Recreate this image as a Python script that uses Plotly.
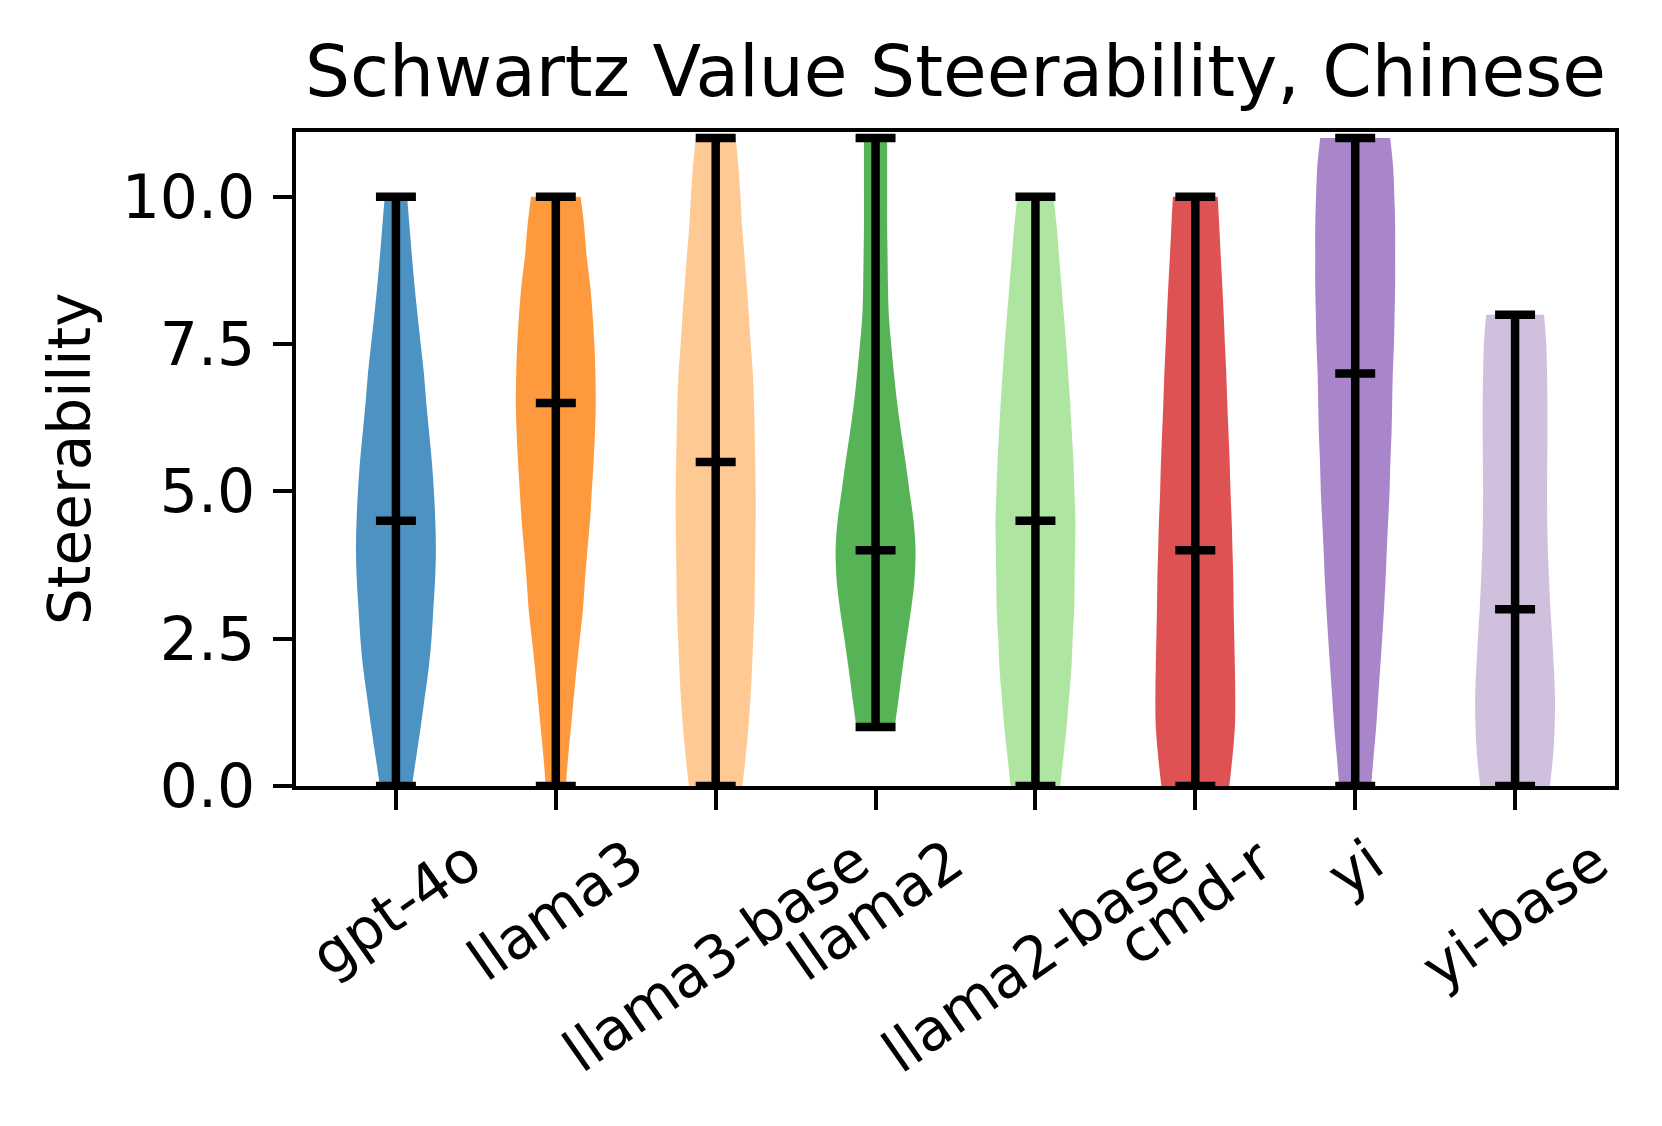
import plotly.graph_objects as go

models = ["gpt-4o", "llama3", "llama3-base", "llama2", "llama2-base", "cmd-r", "yi", "yi-base"]
mins = [0, 0, 0, 1, 0, 0, 0, 0]
maxs = [10, 10, 11, 11, 10, 10, 11, 8]
medians = [4.5, 6.5, 5.5, 4.0, 4.5, 4.0, 7.0, 3.0]

# relative violin half-width (1 = widest), read every 0.5 from min to max
w_gpt4o = [0.40, 0.51, 0.62, 0.72, 0.82, 0.89, 0.935, 0.98, 1.0, 0.985, 0.95,
           0.90, 0.83, 0.76, 0.70, 0.62, 0.54, 0.465, 0.40, 0.34, 0.28]
w_llama3 = [0.25, 0.31, 0.38, 0.45, 0.52, 0.60, 0.68, 0.73, 0.79, 0.855, 0.90,
            0.945, 0.98, 1.0, 0.99, 0.965, 0.92, 0.86, 0.77, 0.71, 0.62]
w_llama3_base = [0.67, 0.75, 0.82, 0.87, 0.91, 0.94, 0.97, 0.98, 0.99, 1.0, 1.0, 0.99,
                 0.975, 0.96, 0.93, 0.875, 0.83, 0.775, 0.72, 0.66, 0.62, 0.57, 0.50]
w_llama2 = [0.48, 0.58, 0.675, 0.78, 0.89, 0.975, 1.0, 0.95, 0.85, 0.75, 0.64,
            0.54, 0.46, 0.39, 0.33, 0.31, 0.30, 0.29, 0.29, 0.29, 0.29]
w_llama2_base = [0.62, 0.70, 0.78, 0.84, 0.90, 0.93, 0.97, 0.98, 0.99, 1.0, 0.975,
                 0.95, 0.91, 0.87, 0.82, 0.77, 0.71, 0.65, 0.59, 0.53, 0.45]
w_cmdr = [0.85, 0.93, 0.99, 1.0, 0.99, 0.975, 0.96, 0.95, 0.93, 0.91, 0.88,
          0.86, 0.83, 0.80, 0.775, 0.74, 0.71, 0.675, 0.635, 0.60, 0.56]
w_yi = [0.40, 0.46, 0.525, 0.575, 0.625, 0.675, 0.72, 0.76, 0.79, 0.825, 0.86, 0.88,
        0.91, 0.925, 0.94, 0.97, 0.985, 1.0, 1.0, 1.0, 0.98, 0.95, 0.875]
w_yi_base = [0.87, 0.95, 0.99, 1.0, 0.97, 0.93, 0.885, 0.85, 0.82, 0.805, 0.80,
             0.805, 0.81, 0.81, 0.80, 0.78, 0.725]
widths = [w_gpt4o, w_llama3, w_llama3_base, w_llama2, w_llama2_base, w_cmdr, w_yi, w_yi_base]

colors = ["rgba(31,119,180,0.8)", "rgba(255,127,14,0.8)", "rgba(255,187,120,0.8)",
          "rgba(44,160,44,0.8)", "rgba(152,223,138,0.8)", "rgba(214,39,40,0.8)",
          "rgba(148,103,189,0.8)", "rgba(197,176,213,0.8)"]

yticks = [0, 2.5, 5.0, 7.5, 10.0]
title = "Schwartz Value Steerability, Chinese"
ylabel = "Steerability"

FONT = "DejaVu Sans"
HALF = 0.25   # max half-width of a violin (category units)
CAP = 0.125   # half-length of the min/max/median bars
STEP = 0.5    # spacing of the width readings
LW = 8.5

fig = go.Figure()

for i, m in enumerate(models):
    ys = [mins[i] + STEP * k for k in range(len(widths[i]))]
    left = [i - HALF * w for w in widths[i]]
    right = [i + HALF * w for w in widths[i]]
    fig.add_trace(go.Scatter(x=left, y=ys, mode="lines",
                             line=dict(width=0, shape="spline", color=colors[i]),
                             showlegend=False, hoverinfo="skip"))
    fig.add_trace(go.Scatter(x=right, y=ys, mode="lines", fill="tonextx",
                             fillcolor=colors[i],
                             line=dict(width=0, shape="spline", color=colors[i]),
                             showlegend=False, hoverinfo="skip"))

for i, m in enumerate(models):
    xs = [i, i, None]
    ys = [mins[i], maxs[i], None]
    for v in (mins[i], maxs[i], medians[i]):
        xs += [i - CAP, i + CAP, None]
        ys += [v, v, None]
    fig.add_trace(go.Scatter(x=xs, y=ys, mode="lines",
                             line=dict(color="black", width=LW),
                             showlegend=False, name=m))

annotations = [
    dict(text=title, x=0.5, xref="paper", y=1, yref="paper", xanchor="center",
         yanchor="bottom", yshift=17, showarrow=False,
         font=dict(family=FONT, size=71, color="black")),
    dict(text=ylabel, x=0, xref="paper", y=0.5, yref="paper", xanchor="center",
         yanchor="middle", xshift=-226, textangle=-90, showarrow=False,
         font=dict(family=FONT, size=58, color="black")),
]
for i, m in enumerate(models):
    annotations.append(dict(text=m, x=i, xref="x", y=0, yref="paper",
                            xanchor="center", yanchor="top", yshift=-37,
                            textangle=-35, showarrow=False,
                            font=dict(family=FONT, size=58, color="black")))

fig.update_layout(
    width=1662, height=1126,
    margin=dict(l=296, r=47, t=132, b=340),
    paper_bgcolor="white", plot_bgcolor="white",
    font=dict(family=FONT, size=58, color="black"),
    annotations=annotations,
    showlegend=False,
)
fig.update_xaxes(range=[-0.625, 7.625], tickmode="array", tickvals=list(range(len(models))),
                 ticktext=[""] * len(models), ticks="outside", ticklen=20, tickwidth=3.5,
                 tickcolor="black", showline=True, linecolor="black", linewidth=3.5,
                 mirror=True, showgrid=False, zeroline=False)
fig.update_yaxes(range=[0, 11.1], tickmode="array", tickvals=yticks,
                 ticktext=[f"{v:.1f}" for v in yticks], ticks="outside", ticklen=19,
                 tickwidth=3.5, tickcolor="black", showline=True, linecolor="black",
                 linewidth=3.5, mirror=True, showgrid=False, zeroline=False,
                 ticklabelstandoff=6, tickfont=dict(family=FONT, size=60, color="black"))

fig.write_html("out.html")
